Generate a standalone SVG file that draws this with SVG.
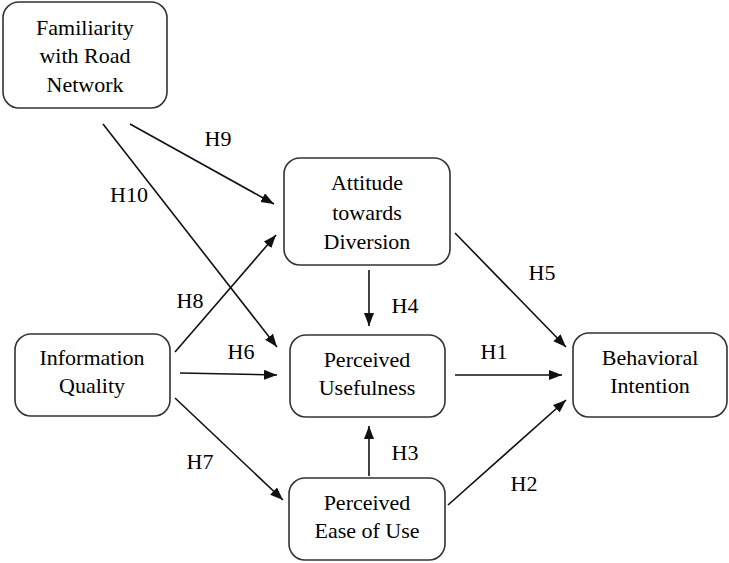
<svg xmlns="http://www.w3.org/2000/svg" width="729" height="563" viewBox="0 0 729 563">
<defs>
<style>
.box{fill:#fff;stroke:#333;stroke-width:1.6}
.t{font-family:'Liberation Serif','Times New Roman',serif;font-size:22px;fill:#000;text-anchor:middle}
.c{stroke:#111;stroke-width:1.6;fill:none;marker-end:url(#ah)}
</style>
<marker id="ah" markerUnits="userSpaceOnUse" markerWidth="14" markerHeight="11" refX="13" refY="5" orient="auto">
<path d="M0,0 L13,5 L0,10 z" fill="#111"/>
</marker>
</defs>
<rect width="729" height="563" fill="#fff"/>
<g id="connectors">
<line class="c" x1="130" y1="124" x2="274" y2="204"/>
<line class="c" x1="103" y1="124" x2="277" y2="347"/>
<line class="c" x1="175" y1="352" x2="276" y2="235"/>
<line class="c" x1="180" y1="373" x2="277" y2="375"/>
<line class="c" x1="175" y1="398" x2="283" y2="500"/>
<line class="c" x1="369" y1="270" x2="369" y2="326"/>
<line class="c" x1="369" y1="476" x2="369" y2="426"/>
<line class="c" x1="455" y1="375" x2="562" y2="375"/>
<line class="c" x1="455" y1="233" x2="566" y2="347"/>
<line class="c" x1="448" y1="505" x2="566" y2="400"/>
<text class="t" x="218" y="146">H9</text>
<text class="t" x="129" y="202">H10</text>
<text class="t" x="190" y="308">H8</text>
<text class="t" x="241" y="359">H6</text>
<text class="t" x="200" y="469">H7</text>
<text class="t" x="405" y="313">H4</text>
<text class="t" x="405" y="460">H3</text>
<text class="t" x="494" y="359">H1</text>
<text class="t" x="542" y="280">H5</text>
<text class="t" x="524" y="491">H2</text>
</g>
<g id="familiarity">
<rect class="box" x="3" y="2" width="164" height="106" rx="16"/>
<text class="t" x="85" y="35">Familiarity</text>
<text class="t" x="85" y="63">with Road</text>
<text class="t" x="85" y="92">Network</text>
</g>
<g id="attitude">
<rect class="box" x="284" y="158" width="166" height="107" rx="16"/>
<text class="t" x="367" y="190">Attitude</text>
<text class="t" x="367" y="220">towards</text>
<text class="t" x="367" y="249">Diversion</text>
</g>
<g id="information-quality">
<rect class="box" x="15" y="334" width="155" height="82" rx="16"/>
<text class="t" x="92" y="365">Information</text>
<text class="t" x="92" y="393">Quality</text>
</g>
<g id="perceived-usefulness">
<rect class="box" x="290" y="335" width="155" height="82" rx="16"/>
<text class="t" x="367" y="367">Perceived</text>
<text class="t" x="367" y="395">Usefulness</text>
</g>
<g id="behavioral-intention">
<rect class="box" x="573" y="333" width="154" height="84" rx="16"/>
<text class="t" x="650" y="365">Behavioral</text>
<text class="t" x="650" y="393">Intention</text>
</g>
<g id="perceived-ease">
<rect class="box" x="289" y="478" width="156" height="82" rx="16"/>
<text class="t" x="367" y="510">Perceived</text>
<text class="t" x="367" y="538">Ease of Use</text>
</g>
</svg>
